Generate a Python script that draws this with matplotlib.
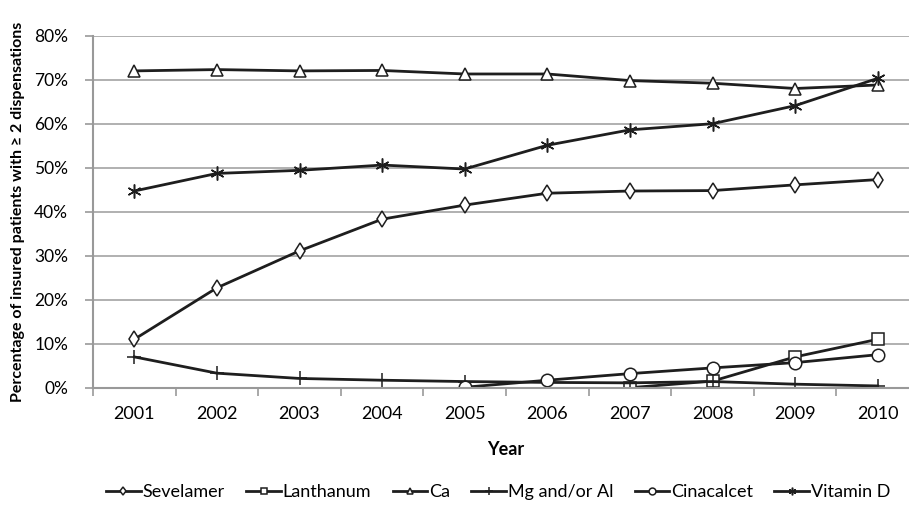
import matplotlib.pyplot as plt
import numpy as np

years = ['2001', '2002', '2003', '2004', '2005', '2006', '2007', '2008', '2009', '2010']

sevelamer = [11.0, 22.7, 31.1, 38.3, 41.5, 44.2, 44.7, 44.8, 46.1, 47.3]
lanthanum = [None, None, None, None, None, None, 0.0, 1.5, 7.0, 11.0]
calcium = [72.0, 72.3, 72.0, 72.1, 71.3, 71.3, 69.8, 69.2, 68.0, 68.8]
mg_al = [7.0, 3.3, 2.1, 1.7, 1.4, 1.2, 1.1, 1.4, 0.8, 0.4]
cinacalcet = [None, None, None, None, 0.1, 1.7, 3.2, 4.5, 5.7, 7.5]
vitamin_d = [44.7, 48.7, 49.4, 50.6, 49.7, 55.1, 58.6, 60.0, 64.1, 70.3]

series_names = ['Sevelamer', 'Lanthanum', 'Ca', 'Mg and/or Al', 'Cinacalcet', 'Vitamin D']
series_markers = ['d', 's', '^', '+', 'o', (6, 2, 0)]
series_sizes = [8, 8, 8, 10, 9, 10]

plt.rcParams['font.family'] = ['Lato', 'DejaVu Sans']

fig = plt.figure(figsize=(9.09, 5.05), dpi=100)
ax = fig.add_axes([93 / 909, 1 - 387.7 / 505, 826 / 909, 352 / 505])

x = np.arange(len(years))
all_series = [sevelamer, lanthanum, calcium, mg_al, cinacalcet, vitamin_d]
for vals, name, mk, ms in zip(all_series, series_names, series_markers, series_sizes):
    y = np.array([np.nan if v is None else v for v in vals], dtype=float)
    ax.plot(x, y, color='#1e1e1e', lw=2, marker=mk, markersize=ms,
            markerfacecolor='white', markeredgecolor='#1e1e1e', markeredgewidth=1.1,
            label=name)

ax.set_xlim(-0.5, len(years) - 0.5)
ax.set_ylim(0, 80)
ax.set_yticks(np.arange(0, 81, 10))
ax.set_yticklabels([f'{v}%' for v in range(0, 81, 10)], fontsize=12.5)
ax.set_xticks(x)
ax.set_xticklabels(years, fontsize=13)
ax.set_xticks(np.arange(-0.5, len(years), 1), minor=True)
ax.tick_params(axis='x', which='major', length=0, pad=13)
ax.tick_params(axis='x', which='minor', length=6, color='#999999', width=1.2)
ax.tick_params(axis='y', length=6, color='#999999', width=1.2, pad=12)

ax.grid(axis='y', color='#aaaaaa', lw=1.3)
ax.set_axisbelow(True)
for side in ['top', 'right']:
    ax.spines[side].set_visible(False)
ax.spines['left'].set_color('#999999')
ax.spines['left'].set_linewidth(1.5)
ax.spines['bottom'].set_color('#999999')
ax.spines['bottom'].set_linewidth(1.5)

ax.set_xlabel('Year', fontsize=13, fontweight='bold', labelpad=14)
fig.text(0.02, 1 - 212 / 505, 'Percentage of insured patients with \u2265 2 dispensations',
         rotation=90, ha='center', va='center', fontsize=11.5, fontweight='bold')

fig.legend(loc='center', bbox_to_anchor=(0.548, 0.025), ncol=6, frameon=False,
           fontsize=13, handlelength=1.9, handletextpad=0.1, columnspacing=1.2,
           markerscale=0.55)

fig.savefig('out.png', dpi=100)
